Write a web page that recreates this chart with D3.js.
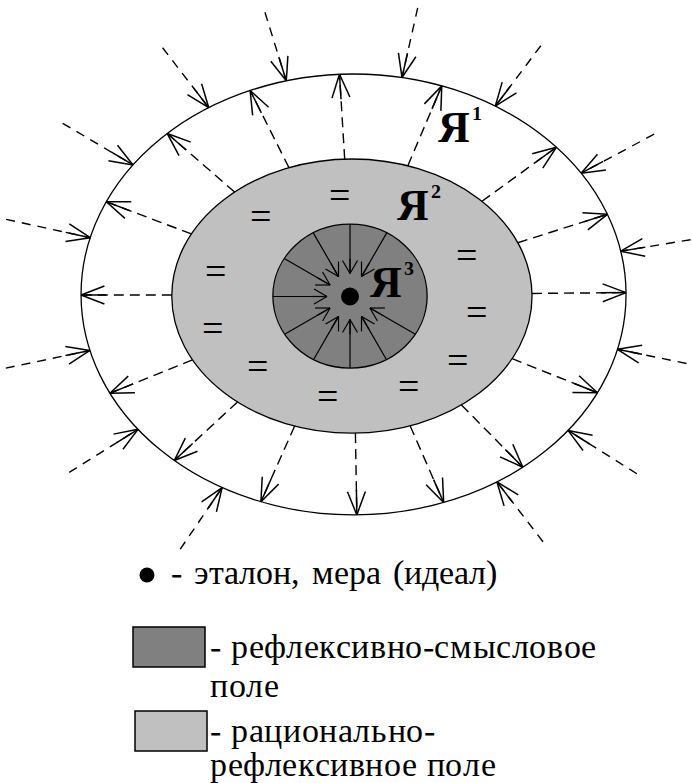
<!DOCTYPE html>
<html>
<head>
<meta charset="utf-8">
<script src="https://cdn.jsdelivr.net/npm/d3@7"></script>
<style>
  @font-face { font-family: "DiagramSerif"; font-weight: 400; src: local("Liberation Serif"), local("LiberationSerif"), local("Times New Roman"); }
  @font-face { font-family: "DiagramSerif"; font-weight: 700; src: local("Liberation Serif Bold"), local("LiberationSerif-Bold"), local("Times New Roman Bold"); }
  svg text { font-family: "DiagramSerif", "Liberation Serif", serif !important; }
</style>
</head>
<body style="margin:0">
<div id="diagram"></div>
<script>
// Rings, outer to inner. Units: half-width of the outer ring = 1.
const ringNames = ["Я1", "Я2", "Я3"];
const ringRx = [1.0, 0.661, 0.283];
const ringRy = [0.809, 0.503, 0.264];
const ringCx = [0.002, -0.004, -0.011];
const ringCy = [-0.002, 0.004, 0.004];
const ringSup = ["1", "2", "3"];
const ringLabelX = [0.312, 0.161, 0.062];
const ringLabelY = [-0.561, -0.275, 0.007];

// Rays, as angles in degrees (0 = right, clockwise on screen)
const inflowAngles = [-107.3, -127.6, -149.4, -167.7, 168.1, 148, 124.2, 52.4, 32.2, 11.6, -9.3, -28.1, -53, -77.3];
const outflowAngles = [-93.5, -116.7, -139, -159.3, 180, 158, 137.2, 114, 89, 66.4, 45.4, 21.8, -0.5, -17.6, -36, -67];
const coreAngles = [-90, -120, -150, 180, 150, 120, 90, 60, 30, -60];

// "=" marks inside the middle ring
const eqX = [-0.048, -0.341, -0.503, 0.418, -0.514, -0.352, -0.095, 0.455, 0.382, 0.202];
const eqY = [-0.363, -0.286, -0.084, -0.143, 0.125, 0.264, 0.374, 0.066, 0.242, 0.338];

// Ideal point (centre dot)
const idealX = -0.011;
const idealY = 0.0055;

// Legend
const legendDotText = "- эталон, мера (идеал)";
const legendFields = ["Я3", "Я2"];
const legendLines = [["- рефлексивно-смысловое", "поле"], ["- рационально-", "рефлексивное поле"]];

const W = 692, H = 783;
const U = 272.5, CX = 353, CY = 295;
const FONT = "DiagramSerif, \"Liberation Serif\", serif";

const x = d3.scaleLinear().domain([-1, 1]).range([CX - U, CX + U]);
const y = d3.scaleLinear().domain([-1, 1]).range([CY - U, CY + U]);
const k = U; // px per unit (same on both axes)
const fill = d3.scaleOrdinal(ringNames, ["#ffffff", "#c0c0c0", "#808080"]);

const svg = d3.select("#diagram").append("svg")
  .attr("width", W).attr("height", H)
  .style("display", "block");
svg.append("rect").attr("width", W).attr("height", H).attr("fill", "#fff");

function serifText(g) {
  return g.append("text")
    .attr("font-family", FONT)
    .style("font-family", FONT, "important");
}

// distance along a ray (from o, angle a) to ring i
function hit(i, ox, oy, a) {
  const dx = Math.cos(a), dy = Math.sin(a);
  const ex = ringCx[i] - ox, ey = ringCy[i] - oy;
  const rx2 = ringRx[i] ** 2, ry2 = ringRy[i] ** 2;
  const A = dx * dx / rx2 + dy * dy / ry2;
  const B = -2 * (dx * ex / rx2 + dy * ey / ry2);
  const C = ex * ex / rx2 + ey * ey / ry2 - 1;
  return (-B + Math.sqrt(B * B - 4 * A * C)) / (2 * A);
}

function head(g, tx, ty, a, len, spread, sw) {
  // a = direction the arrow points
  const lines = [-spread, 0, spread].map(s => [tx, ty, tx - len * Math.cos(a + s), ty - len * Math.sin(a + s)]);
  g.selectAll(null).data(lines).enter().append("line")
    .attr("x1", d => d[0]).attr("y1", d => d[1])
    .attr("x2", d => d[2]).attr("y2", d => d[3])
    .attr("stroke", "#000").attr("stroke-width", sw);
}

// ellipses
svg.append("g").selectAll("ellipse")
  .data(ringNames)
  .enter().append("ellipse")
  .attr("cx", (d, i) => x(ringCx[i]))
  .attr("cy", (d, i) => y(ringCy[i]))
  .attr("rx", (d, i) => ringRx[i] * k)
  .attr("ry", (d, i) => ringRy[i] * k)
  .attr("fill", d => fill(d))
  .attr("stroke", "#000")
  .attr("stroke-width", 1.3);

const rays = svg.append("g");
const rad = d => d * Math.PI / 180;

// outflow: from middle ring to outer ring, pointing out
outflowAngles.forEach(deg => {
  const a = rad(deg);
  const t0 = hit(1, 0, 0, a), t1 = hit(0, 0, 0, a);
  const sx = x(t0 * Math.cos(a)), sy = y(t0 * Math.sin(a));
  const ex = x(t1 * Math.cos(a)), ey = y(t1 * Math.sin(a));
  rays.append("line")
    .attr("x1", sx).attr("y1", sy).attr("x2", ex).attr("y2", ey)
    .attr("stroke", "#000").attr("stroke-width", 1.4)
    .attr("stroke-dasharray", "10,6");
  head(rays, ex, ey, a, 25, rad(21), 1.5);
});

// inflow: from outside to outer ring, pointing in
inflowAngles.forEach(deg => {
  const a = rad(deg);
  const t1 = hit(0, 0, 0, a);
  const t0 = t1 * 1.32;
  const sx = x(t0 * Math.cos(a)), sy = y(t0 * Math.sin(a));
  const ex = x(t1 * Math.cos(a)), ey = y(t1 * Math.sin(a));
  rays.append("line")
    .attr("x1", sx).attr("y1", sy).attr("x2", ex).attr("y2", ey)
    .attr("stroke", "#000").attr("stroke-width", 1.4)
    .attr("stroke-dasharray", "9,7");
  head(rays, ex, ey, a + Math.PI, 25, rad(21), 1.5);
});

// "=" marks
const eqG = svg.append("g");
eqX.forEach((d, i) => {
  serifText(eqG)
    .attr("x", x(d))
    .attr("y", y(eqY[i]) + 11)
    .attr("text-anchor", "middle")
    .attr("font-size", 38)
    .text("=");
});

// core arrows toward the ideal
const core = svg.append("g");
coreAngles.forEach(deg => {
  const a = rad(deg);
  const t0 = hit(2, idealX, idealY, a);
  const sx = x(idealX + t0 * Math.cos(a)), sy = y(idealY + t0 * Math.sin(a));
  const tx = x(idealX) + 23 * Math.cos(a), ty = y(idealY) + 23 * Math.sin(a);
  core.append("line")
    .attr("x1", sx).attr("y1", sy).attr("x2", tx).attr("y2", ty)
    .attr("stroke", "#000").attr("stroke-width", 1.2);
  head(core, tx, ty, a + Math.PI, 15, rad(30), 1.2);
});

svg.append("circle")
  .attr("cx", x(idealX)).attr("cy", y(idealY))
  .attr("r", 9).attr("fill", "#000");

// ring labels
const labels = svg.append("g");
ringNames.forEach((n, i) => {
  const t = serifText(labels)
    .attr("x", x(ringLabelX[i]))
    .attr("y", y(ringLabelY[i]))
    .attr("font-size", 44)
    .attr("font-weight", "bold");
  t.append("tspan").text("Я");
  t.append("tspan")
    .attr("font-size", 20)
    .attr("dx", 2)
    .attr("dy", -22)
    .text(ringSup[i]);
});

// legend
const lg = svg.append("g");
lg.append("circle").attr("cx", 147).attr("cy", 575).attr("r", 7.5).attr("fill", "#000");
serifText(lg).attr("x", 171).attr("y", 584)
  .attr("font-size", 34)
  .attr("word-spacing", 3)
  .text(legendDotText);

legendFields.forEach((f, i) => {
  const top = 627 + i * 84;
  lg.append("rect")
    .attr("x", 133 + i * 2).attr("y", top)
    .attr("width", 72).attr("height", 40)
    .attr("fill", fill(f))
    .attr("stroke", "#000").attr("stroke-width", 1.5);
  legendLines[i].forEach((s, j) => {
    serifText(lg)
      .attr("x", 210)
      .attr("y", top + 31 + j * (i === 0 ? 39 : 34))
      .attr("font-size", 34)
      .attr("letter-spacing", 0.6)
      .text(s);
  });
});
</script>
</body>
</html>
